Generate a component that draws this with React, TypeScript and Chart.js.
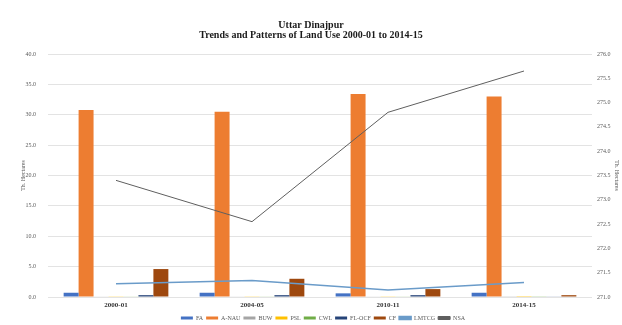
import React, { useEffect, useRef } from "react";
import { Chart, registerables } from "chart.js";

Chart.register(...registerables);

// Land use in Uttar Dinajpur, thousand hectares
const years = ["2000-01", "2004-05", "2010-11", "2014-15"];
const forestArea = [0.7, 0.7, 0.6, 0.7];
const areaNonAgri = [30.8, 30.5, 33.4, 33.0];
const barrenUnculturable = [0.1, 0.1, 0.1, 0.05];
const pastures = [0.05, 0.05, 0.05, 0.02];
const culturableWaste = [0.1, 0.1, 0.1, 0.05];
const fallowOther = [0.3, 0.3, 0.3, 0.1];
const currentFallow = [4.6, 3.0, 1.3, 0.3];
const miscTreeCrops = [2.2, 2.7, 1.15, 2.4];
const netSownArea = [273.4, 272.55, 274.8, 275.65];

const leftTicks = { min: 0, max: 40, step: 5 };
const rightTicks = { min: 271, max: 276, step: 0.5 };

const serif = "'Liberation Serif', 'Times New Roman', serif";
const labelColor = "#595959";

// Centre the legend under the plot area rather than the whole canvas
const legendShift = {
  id: "legendShift",
  afterLayout(chart: any) {
    const lg = chart.legend;
    if (!lg) return;
    lg.left += 12;
    lg.right += 12;
  },
};

export default function App() {
  const canvasRef = useRef<HTMLCanvasElement | null>(null);

  useEffect(() => {
    document.body.style.margin = "0";
    const canvas = canvasRef.current;
    if (!canvas) return;

    const bar = (label: string, data: number[], color: string) => ({
      type: "bar" as const,
      label,
      data,
      backgroundColor: color,
      borderColor: color,
      borderWidth: 0,
      yAxisID: "y",
      order: 2,
      categoryPercentage: 0.77,
      barPercentage: 1,
    });

    const chart = new Chart(canvas, {
      type: "bar",
      plugins: [legendShift],
      data: {
        labels: years,
        datasets: [
          bar("FA", forestArea, "#4472C4"),
          bar("A-NAU", areaNonAgri, "#ED7D31"),
          bar("BUW", barrenUnculturable, "#A5A5A5"),
          bar("PSL", pastures, "#FFC000"),
          bar("CWL", culturableWaste, "#70AD47"),
          bar("FL-OCF", fallowOther, "#264478"),
          bar("CF", currentFallow, "#9E480E"),
          {
            type: "line" as const,
            label: "LMTCG",
            data: miscTreeCrops,
            borderColor: "#6A9BC9",
            backgroundColor: "#6A9BC9",
            borderWidth: 1.5,
            pointRadius: 0,
            yAxisID: "y",
            order: 1,
          },
          {
            type: "line" as const,
            label: "NSA",
            data: netSownArea,
            borderColor: "#5f5f5f",
            backgroundColor: "#5f5f5f",
            borderWidth: 1,
            pointRadius: 0,
            yAxisID: "y1",
            order: 0,
          },
        ] as any,
      },
      options: {
        responsive: false,
        animation: false,
        layout: { padding: { left: 0, right: 0, top: 0, bottom: -6 } },
        plugins: {
          title: {
            display: true,
            text: ["Uttar Dinajpur", "Trends and Patterns of Land Use 2000-01 to 2014-15"],
            color: "#1a1a1a",
            font: { family: serif, size: 10, weight: "bold", lineHeight: 1.05 },
            padding: { top: 20, bottom: 13 },
          },
          legend: {
            position: "bottom",
            labels: {
              boxWidth: 12,
              boxHeight: 3,
              padding: 3,
              color: labelColor,
              font: { family: serif, size: 6 },
              sort: (a: any, b: any) => a.datasetIndex - b.datasetIndex,
            },
          },
          tooltip: { enabled: false },
        },
        scales: {
          x: {
            offset: true,
            grid: { display: false, drawTicks: false },
            border: { display: false },
            ticks: {
              color: "#333333",
              font: { family: serif, size: 7, weight: "bold" },
              padding: 4,
            },
            afterFit: (scale: any) => {
              scale.height = 15;
            },
          },
          y: {
            position: "left",
            min: leftTicks.min,
            max: leftTicks.max,
            grid: { color: "#E3E3E3", drawTicks: false },
            border: { display: false },
            ticks: {
              stepSize: leftTicks.step,
              color: labelColor,
              font: { family: serif, size: 6 },
              padding: 12,
              callback: (v: any) => Number(v).toFixed(1),
            },
            title: {
              display: true,
              text: "Th. Hectares",
              color: labelColor,
              font: { family: serif, size: 6 },
              padding: { top: 20, bottom: 0 },
            },
            afterFit: (scale: any) => {
              scale.width = 48;
            },
          },
          y1: {
            position: "right",
            min: rightTicks.min,
            max: rightTicks.max,
            grid: { drawOnChartArea: false, drawTicks: false },
            border: { display: false },
            ticks: {
              stepSize: rightTicks.step,
              color: labelColor,
              font: { family: serif, size: 6 },
              padding: 5,
              callback: (v: any) => Number(v).toFixed(1),
            },
            title: {
              display: true,
              text: "Th. Hectares",
              color: labelColor,
              font: { family: serif, size: 6 },
              padding: { top: 2, bottom: 0 },
            },
            afterFit: (scale: any) => {
              scale.width = 30;
            },
          },
        },
      } as any,
    });

    return () => chart.destroy();
  }, []);

  return (
    <div style={{ position: "absolute", left: 0, top: 0, width: 622, height: 325, background: "#fff" }}>
      <canvas ref={canvasRef} width={622} height={325} />
    </div>
  );
}
